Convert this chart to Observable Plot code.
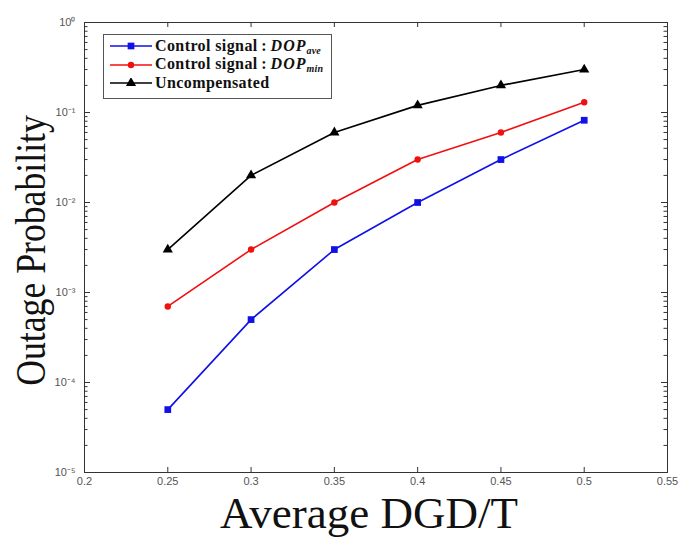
<!DOCTYPE html>
<html><head><meta charset="utf-8">
<script src="https://cdn.jsdelivr.net/npm/d3@7"></script>
<script src="https://cdn.jsdelivr.net/npm/@observablehq/plot@0.6"></script>
<style>
body{margin:0;background:#fff;}
#wrap{position:relative;width:696px;height:538px;}
#legend{position:absolute;left:103px;top:34px;width:229px;height:65px;border:1px solid #555;background:#fff;font:bold 16px "Liberation Serif","Times New Roman",serif;letter-spacing:0.4px;color:#111;box-sizing:border-box;padding-top:2px;}
.row{height:18.5px;display:flex;align-items:center;white-space:nowrap;}
.row svg{margin-left:6px;margin-right:3px;flex:none;}
.row i{font-style:italic;letter-spacing:1px;}
.row sub{font-size:10px;font-style:italic;vertical-align:-3px;letter-spacing:0.2px;}
</style></head><body><div id="wrap"><div id="legend"></div></div>
<script>
// Data
const dgd = [0.25, 0.3, 0.35, 0.4, 0.45, 0.5];
const dopAve = [5e-5, 5e-4, 3e-3, 1e-2, 3e-2, 8.2e-2];
const dopMin = [7e-4, 3e-3, 1e-2, 3e-2, 6e-2, 0.13];
const uncompensated = [3e-3, 2e-2, 6e-2, 0.12, 0.2, 0.3];

const seriesNames = ["DOPave", "DOPmin", "Uncompensated"];
const seriesColors = ["#1010e8", "#f01010", "#000000"];
const seriesSymbols = ["square", "circle", "triangle"];
const seriesValues = [dopAve, dopMin, uncompensated];
const legendHtml = [
  'Control signal\u2009:\u2009<i>DOP</i><sub>ave</sub>',
  'Control signal\u2009:\u2009<i>DOP</i><sub>min</sub>',
  'Uncompensated'
];

const xTicks = [0.2, 0.25, 0.3, 0.35, 0.4, 0.45, 0.5, 0.55];
const yMajor = [1e-5, 1e-4, 1e-3, 1e-2, 1e-1, 1];
const yMinor = [];
for (let e = -5; e < 0; e++) for (let m = 2; m <= 9; m++) yMinor.push(m * Math.pow(10, e));

const sup = {"-": "\u207B", "0": "\u2070", "1": "\u00B9", "2": "\u00B2", "3": "\u00B3", "4": "\u2074", "5": "\u2075"};
const fmtY = d => "10" + String(Math.round(Math.log10(d))).split("").map(c => sup[c]).join("");

const rows = [];
seriesNames.forEach((s, i) => dgd.forEach((x, j) => rows.push({series: s, x, y: seriesValues[i][j]})));

const W = 696, H = 538, mL = 84, mR = 29, mT = 22, mB = 66;
const fw = W - mL - mR, fh = H - mT - mB;
const tickStroke = "#333";

const marks = [
  Plot.frame({stroke: "#333", strokeWidth: 1}),
  Plot.tickY(yMajor, {y: d => d, insetRight: fw - 6, stroke: tickStroke}),
  Plot.tickY(yMajor, {y: d => d, insetLeft: fw - 6, stroke: tickStroke}),
  Plot.tickY(yMinor, {y: d => d, insetRight: fw - 3.5, stroke: tickStroke}),
  Plot.tickY(yMinor, {y: d => d, insetLeft: fw - 3.5, stroke: tickStroke}),
  Plot.tickX(xTicks, {x: d => d, insetTop: fh - 5, stroke: tickStroke}),
  Plot.tickX(xTicks, {x: d => d, insetBottom: fh - 5, stroke: tickStroke})
];
seriesNames.forEach((s, i) => {
  const d = rows.filter(r => r.series === s);
  marks.push(Plot.line(d, {x: "x", y: "y", stroke: seriesColors[i], strokeWidth: 1.6}));
  marks.push(Plot.dot(d, {x: "x", y: "y", symbol: seriesSymbols[i], fill: seriesColors[i], stroke: "none", r: i === 1 ? 3.2 : 3.8}));
});
marks.push(Plot.text(["Average DGD/T"], {frameAnchor: "bottom", lineAnchor: "middle", textAnchor: "middle", dx: -7, dy: 41, fontSize: 45, fontFamily: "Liberation Serif, Times New Roman, serif", fill: "#111"}));
marks.push(Plot.text(["Outage Probability"], {frameAnchor: "left", lineAnchor: "middle", textAnchor: "middle", dx: -53, dy: 3, rotate: -90, fontSize: 42, fontFamily: "Liberation Serif, Times New Roman, serif", fill: "#111"}));

const chart = Plot.plot({
  width: W, height: H,
  marginLeft: mL, marginRight: mR, marginTop: mT, marginBottom: mB,
  style: {fontSize: "11px", fontFamily: "Liberation Sans, Arial, sans-serif", color: "#555", background: "#fff"},
  x: {domain: [0.2, 0.55], ticks: xTicks, tickSize: 0, tickPadding: 5, tickFormat: d => String(+d.toFixed(2)), label: null},
  y: {type: "log", domain: [1e-5, 1], ticks: yMajor, tickSize: 0, tickPadding: 9, tickFormat: fmtY, label: null},
  marks
});
// the reference's axis title is horizontally condensed: squeeze it along its own length
d3.select(chart).selectAll("text").filter(function() { return this.textContent === "Outage Probability"; })
  .each(function() { const t = this.getAttribute("transform") || ""; this.setAttribute("transform", t + " scale(0.85,1)"); });
document.getElementById("wrap").prepend(chart);

const leg = document.getElementById("legend");
seriesNames.forEach((s, i) => {
  const row = document.createElement("div");
  row.className = "row";
  const sym = d3.symbol(i === 0 ? d3.symbolSquare : i === 1 ? d3.symbolCircle : d3.symbolTriangle, i === 1 ? 32 : 45)();
  row.innerHTML = `<svg width="42" height="10"><line x1="0" x2="42" y1="5" y2="5" stroke="${seriesColors[i]}" stroke-width="1.6"/><path transform="translate(21,5)" d="${sym}" fill="${seriesColors[i]}"/></svg><span>${legendHtml[i]}</span>`;
  leg.appendChild(row);
});
</script></body></html>
